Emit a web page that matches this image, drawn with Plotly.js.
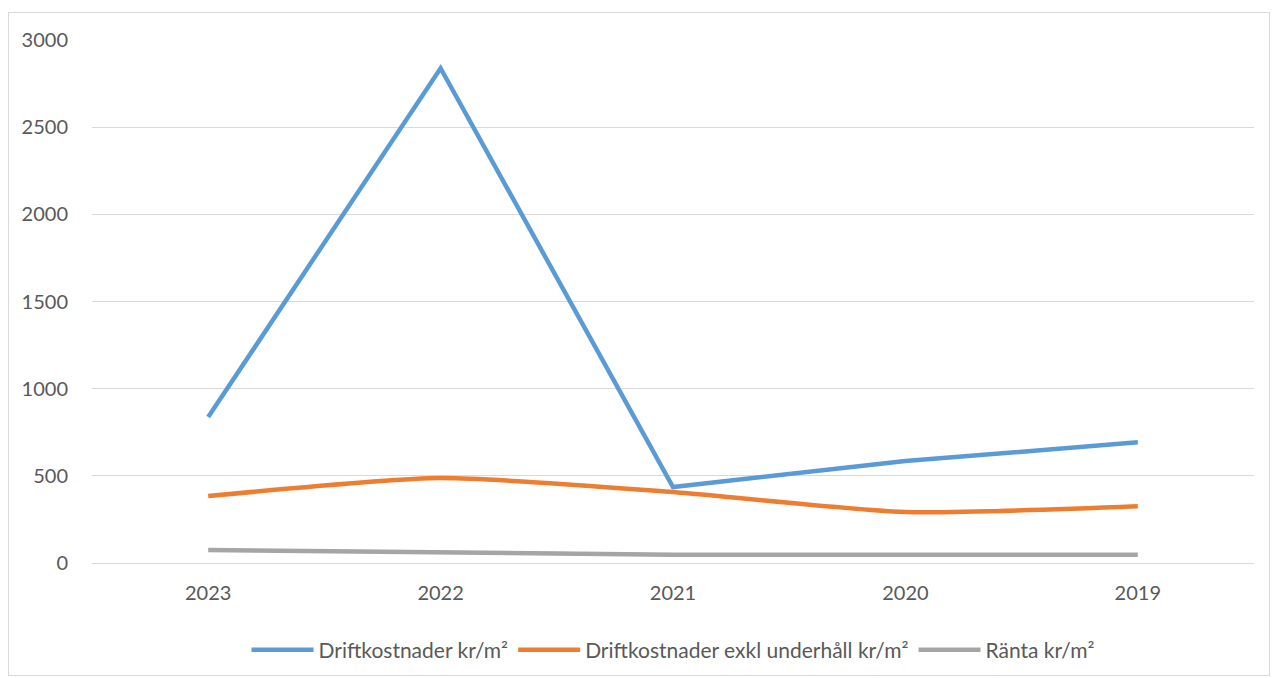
<!DOCTYPE html>
<html>
<head>
<meta charset="utf-8">
<script src="https://cdn.plot.ly/plotly-3.0.1.min.js"></script>
<style>
html,body{margin:0;padding:0;background:#fff;}
#wrap{position:absolute;left:8px;top:12px;width:1262px;height:664px;border:1px solid #d9d9d9;box-sizing:border-box;}
#chart{position:absolute;left:0;top:0;width:1273px;height:678px;}
</style>
</head>
<body>
<div id="wrap"></div>
<div id="chart"></div>
<script>
const years = ["2023", "2022", "2021", "2020", "2019"];
const driftkostnader = [837, 2838, 436, 585, 692];
const driftExklUnderhall = [384, 487, 407, 292, 325];
const ranta = [75, 60, 47, 47, 47];
const seriesNames = ["Driftkostnader kr/m²", "Driftkostnader exkl underhåll kr/m²", "Ränta kr/m²"];
const yTicks = [0, 500, 1000, 1500, 2000, 2500, 3000];

const traces = [
  {x: years, y: driftkostnader, name: seriesNames[0], type: 'scatter', mode: 'lines',
   line: {color: '#5B9BD5', width: 4.5}},
  {x: years, y: driftExklUnderhall, name: seriesNames[1], type: 'scatter', mode: 'lines',
   line: {color: '#ED7D31', width: 4.5, shape: 'spline', smoothing: 0.6}},
  {x: years, y: ranta, name: seriesNames[2], type: 'scatter', mode: 'lines',
   line: {color: '#A5A5A5', width: 4.5}}
];

const layout = {
  width: 1273, height: 678,
  paper_bgcolor: 'rgba(0,0,0,0)', plot_bgcolor: 'rgba(0,0,0,0)',
  margin: {l: 92, r: 19, t: 40, b: 115},
  font: {family: 'Lato, "Open Sans", sans-serif', size: 20, color: '#595959'},
  showlegend: true,
  legend: {orientation: 'h', x: 0.5, xanchor: 'center', yref: 'container', y: 0.041, yanchor: 'middle',
           font: {size: 21, color: '#595959'}, itemwidth: 62},
  xaxis: {type: 'category', range: [-0.5, 4.5], showgrid: false, zeroline: false,
          showline: false, ticks: 'outside', ticklen: 12, tickcolor: 'rgba(0,0,0,0)',
          tickfont: {size: 20, color: '#595959'}},
  yaxis: {range: [0, 3000], tickvals: yTicks, showgrid: true, gridcolor: '#d9d9d9',
          gridwidth: 1, zeroline: true, zerolinecolor: '#d9d9d9', zerolinewidth: 1,
          showline: false, ticks: 'outside', ticklen: 19, tickcolor: 'rgba(0,0,0,0)',
          tickfont: {size: 20, color: '#595959'}}
};

Plotly.newPlot('chart', traces, layout, {displayModeBar: false, staticPlot: true});
</script>
</body>
</html>
